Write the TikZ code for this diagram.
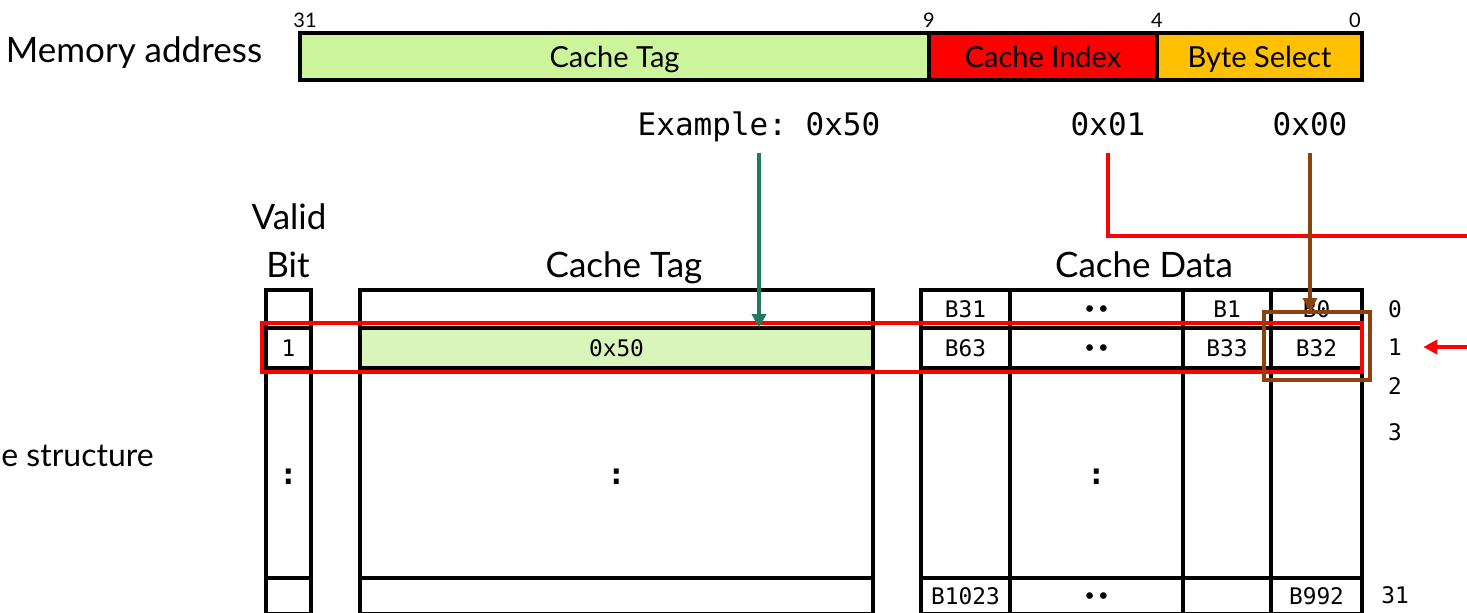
\documentclass[tikz,border=0pt]{standalone}
\usepackage{fontspec}
\setmainfont{Lato}
\setmonofont{DejaVu Sans Mono}
\usetikzlibrary{arrows.meta}
\definecolor{tagG}{HTML}{CCF49A}
\definecolor{tagL}{HTML}{D9F5BC}
\definecolor{idxR}{HTML}{FF0000}
\definecolor{bsO}{HTML}{FFC000}
\definecolor{tealA}{HTML}{23795F}
\definecolor{brnA}{HTML}{8C420F}
\newcommand\mycell[7][]{%
  \pgfmathsetmacro\cw{(#5-#3)*0.5}%
  \pgfmathsetmacro\ch{(#6-#4)*0.5}%
  \node[cell,#1,minimum width=\cw pt,minimum height=\ch pt] (#2) at ({(#3+#5)/2},{(#4+#6)/2}) {#7};}
\begin{document}
\begin{tikzpicture}[x=0.5pt,y=-0.5pt,
  cell/.style={draw=black, line width=2pt, inner sep=0pt, outer sep=0pt,
    font=\ttfamily\fontsize{11.4}{13}\selectfont, anchor=center,
    text height=8.3pt, text depth=0pt},
  dots/.style={font=\ttfamily\bfseries\fontsize{15}{17}\selectfont, text height=11pt},
  field/.style={font=\fontsize{14.5}{17}\selectfont, text height=10.5pt, text depth=0pt},
  head/.style={font=\fontsize{17.5}{20}\selectfont, inner sep=0pt, anchor=base},
  bitn/.style={font=\fontsize{10}{12}\selectfont, inner sep=0pt, anchor=base},
  hexl/.style={font=\ttfamily\fontsize{15.5}{18}\selectfont, inner sep=0pt, anchor=base, text depth=3.7pt},
  idx/.style={font=\ttfamily\fontsize{11.4}{13}\selectfont, inner sep=0pt},
  arr/.style={line width=2pt, -{Triangle[length=7pt,width=7pt]}},
  wire/.style={line width=2pt}]
\useasboundingbox (0,0) rectangle (1467,612);

% address bar
\mycell[field,fill=tagG]{ftag}{300}{33}{929}{80}{Cache Tag}
\mycell[field,fill=idxR]{fidx}{929}{33}{1157}{80}{Cache Index}
\mycell[field,fill=bsO]{fbs}{1157}{33}{1362}{80}{Byte Select}
\node[bitn] (b31) at (305,27) {31};
\node[bitn] (b9) at (929,27) {9};
\node[bitn] (b4) at (1157,27) {4};
\node[bitn] (b0) at (1355,27) {0};

% headings
\node[head] (hmem) at (134,62) {Memory address};
\node[head] (hval) at (289,229) {Valid};
\node[head] (hbit) at (288,277) {Bit};
\node[head] (htag) at (624,277) {Cache Tag};
\node[head] (hdat) at (1144,277) {Cache Data};
\node[head, anchor=base west, font=\fontsize{16}{19}\selectfont] (hstr) at (1,466) {e structure};

% example values
\node[hexl] (ex) at (759,135) {Example: 0x50};
\node[hexl] (ci) at (1108,135) {0x01};
\node[hexl] (bs) at (1310,135) {0x00};

% valid column
\mycell{v0}{266}{290}{311}{328}{}
\mycell{v1}{266}{328}{311}{368}{1}
\mycell[dots]{v2}{266}{368}{311}{578}{:}
\mycell{v3}{266}{578}{311}{614}{}
% tag column
\mycell{t0}{360}{290}{873}{328}{}
\mycell[fill=tagL]{t1}{360}{328}{873}{368}{0x50}
\mycell[dots]{t2}{360}{368}{873}{578}{:}
\mycell{t3}{360}{578}{873}{614}{}
% data
\mycell{d0a}{921}{290}{1010}{328}{B31}
\mycell{d0b}{1010}{290}{1183}{328}{••}
\mycell{d0c}{1183}{290}{1271}{328}{B1}
\mycell{d0d}{1271}{290}{1362}{328}{B0}
\mycell{d1a}{921}{328}{1010}{368}{B63}
\mycell{d1b}{1010}{328}{1183}{368}{••}
\mycell{d1c}{1183}{328}{1271}{368}{B33}
\mycell{d1d}{1271}{328}{1362}{368}{B32}
\mycell{d2a}{921}{368}{1010}{578}{}
\mycell[dots]{d2b}{1010}{368}{1183}{578}{:}
\mycell{d2c}{1183}{368}{1271}{578}{}
\mycell{d2d}{1271}{368}{1362}{578}{}
\mycell{d3a}{921}{578}{1010}{614}{B1023}
\mycell{d3b}{1010}{578}{1183}{614}{••}
\mycell{d3c}{1183}{578}{1271}{614}{}
\mycell{d3d}{1271}{578}{1362}{614}{B992}

% row indices
\node[idx] (ix0) at (1395,309) {0};
\node[idx] (ix1) at (1395,347) {1};
\node[idx] (ix2) at (1395,386) {2};
\node[idx] (ix3) at (1395,432) {3};
\node[idx] (ix31) at (1395,595) {31};

% highlight boxes
\mycell[draw=idxR]{selrow}{262}{323}{1362}{372}{}
\mycell[draw=brnA]{brbox}{1264}{312}{1370}{380}{}

% connectors
\coordinate (redR) at (1475,236);
\coordinate (redIn) at (1475,347);
\draw[arr,color=tealA,shorten <=5pt] (ex) -- (ex |- t1.north);
\draw[wire,color=idxR,shorten <=5pt] (ci) |- (redR);
\draw[arr,color=brnA,shorten <=5pt] (bs) -- (bs |- brbox.north);
\draw[arr,color=idxR,shorten >=10.5pt] (redIn) -- (ix1);
\end{tikzpicture}
\end{document}
